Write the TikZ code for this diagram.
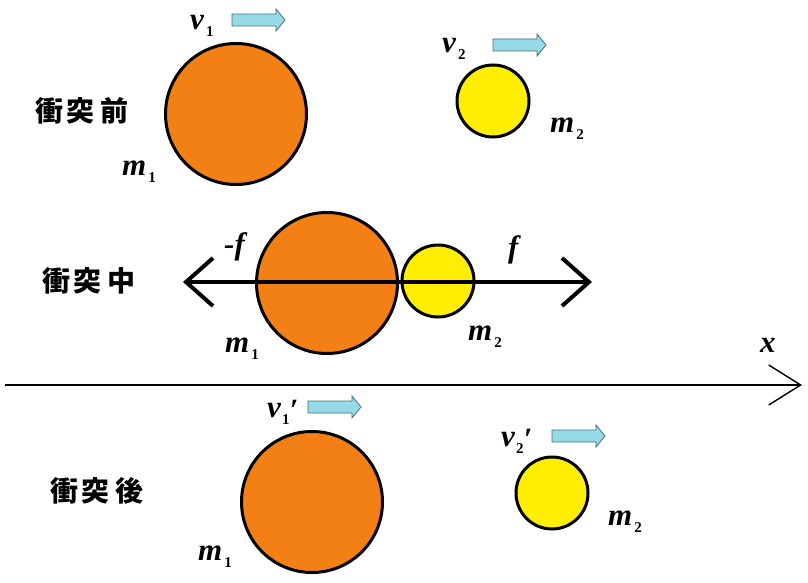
\documentclass[tikz,border=0pt]{standalone}
\usepackage{fontspec}
\setmainfont{Liberation Serif}
\newfontfamily\jpfont{Noto Sans CJK JP}
\usetikzlibrary{arrows.meta}

\definecolor{ballorange}{RGB}{242,128,20}
\definecolor{ballyellow}{RGB}{255,238,0}
\definecolor{arrowfill}{RGB}{150,218,230}
\definecolor{arrowedge}{RGB}{70,110,120}

\newcommand{\lab}[2]{\textbf{\textit{#1}}\kern2pt\raisebox{-7pt}{\fontsize{15}{15}\selectfont\textbf{#2}}}
\newcommand{\labp}[2]{\textbf{\textit{#1}}\kern1pt\raisebox{-7pt}{\fontsize{15}{15}\selectfont\textbf{#2}}\kern0.5pt\raisebox{-3pt}{\textbf{′}}}

\tikzset{
  ball/.style={circle,draw=black,line width=3pt,inner sep=0pt},
  heavy/.style={ball,fill=ballorange,minimum size=141pt},
  light/.style={ball,fill=ballyellow,minimum size=72pt},
  sym/.style={anchor=base west,inner sep=0pt,font=\fontsize{31}{31}\selectfont},
  stage/.style={inner sep=0pt,font=\jpfont\bfseries\fontsize{28}{28}\selectfont},
  force/.style={line width=4pt,{Straight Barb[length=27pt,width=48pt]}-{Straight Barb[length=27pt,width=48pt]}},
  axis/.style={line width=1.8pt,-{Straight Barb[length=32pt,width=40pt,line width=1.4pt]}},
  vel/.pic={\draw[draw=arrowedge,fill=arrowfill,line width=0.8pt] (0,-6)--(44,-6)--(44,-11)--(53,0)--(44,11)--(44,6)--(0,6)--cycle;}
}

\begin{document}
\begin{tikzpicture}[x=1pt,y=-1pt]

\useasboundingbox (0,0) rectangle (808,583);

\node[stage] (before) at (82,111) {衝\kern4pt 突\kern6pt 前};
\node[heavy] (A1) at (236,114) {};
\node[light] (B1) at (493,101) {};
\node[sym] (v1) at (190,30) {\lab{v}{1}};
\node[sym] (m1a) at (122,175) {\lab{m}{1}};
\node[sym] (v2) at (442,53) {\lab{v}{2}};
\node[sym] (m2a) at (550,132) {\lab{m}{2}};
\pic at (232,20) {vel};
\pic at (493,45) {vel};

\node[stage] (during) at (89,281) {衝\kern4pt 突\kern6pt 中};
\node[heavy] (A2) at (327,283) {};
\node[light] (B2) at (438,281) {};
\coordinate (fL) at (183,282);
\coordinate (fR) at (592,282);
\draw[force] (fL) -- (fR);
\node[sym] (mf) at (224,254) {\textbf{\textit{-f}}};
\node[sym] (pf) at (508,257) {\textbf{\textit{f}}};
\node[sym] (m1b) at (225,352) {\lab{m}{1}};
\node[sym] (m2b) at (468,340) {\lab{m}{2}};

\coordinate (xL) at (5,385);
\coordinate (xR) at (802,385);
\draw[axis] (xL) -- (xR);
\node[sym] (xlab) at (760,352) {\textbf{\textit{x}}};

\node[stage] (after) at (97,491) {衝\kern4pt 突\kern6pt 後};
\node[heavy] (A3) at (312,502) {};
\node[light] (B3) at (552,493) {};
\node[sym] (v1p) at (267,417) {\labp{v}{1}};
\node[sym] (v2p) at (501,446) {\labp{v}{2}};
\node[sym] (m1c) at (198,560) {\lab{m}{1}};
\node[sym] (m2c) at (608,525) {\lab{m}{2}};
\pic at (308,407) {vel};
\pic at (552,436) {vel};

\end{tikzpicture}
\end{document}
